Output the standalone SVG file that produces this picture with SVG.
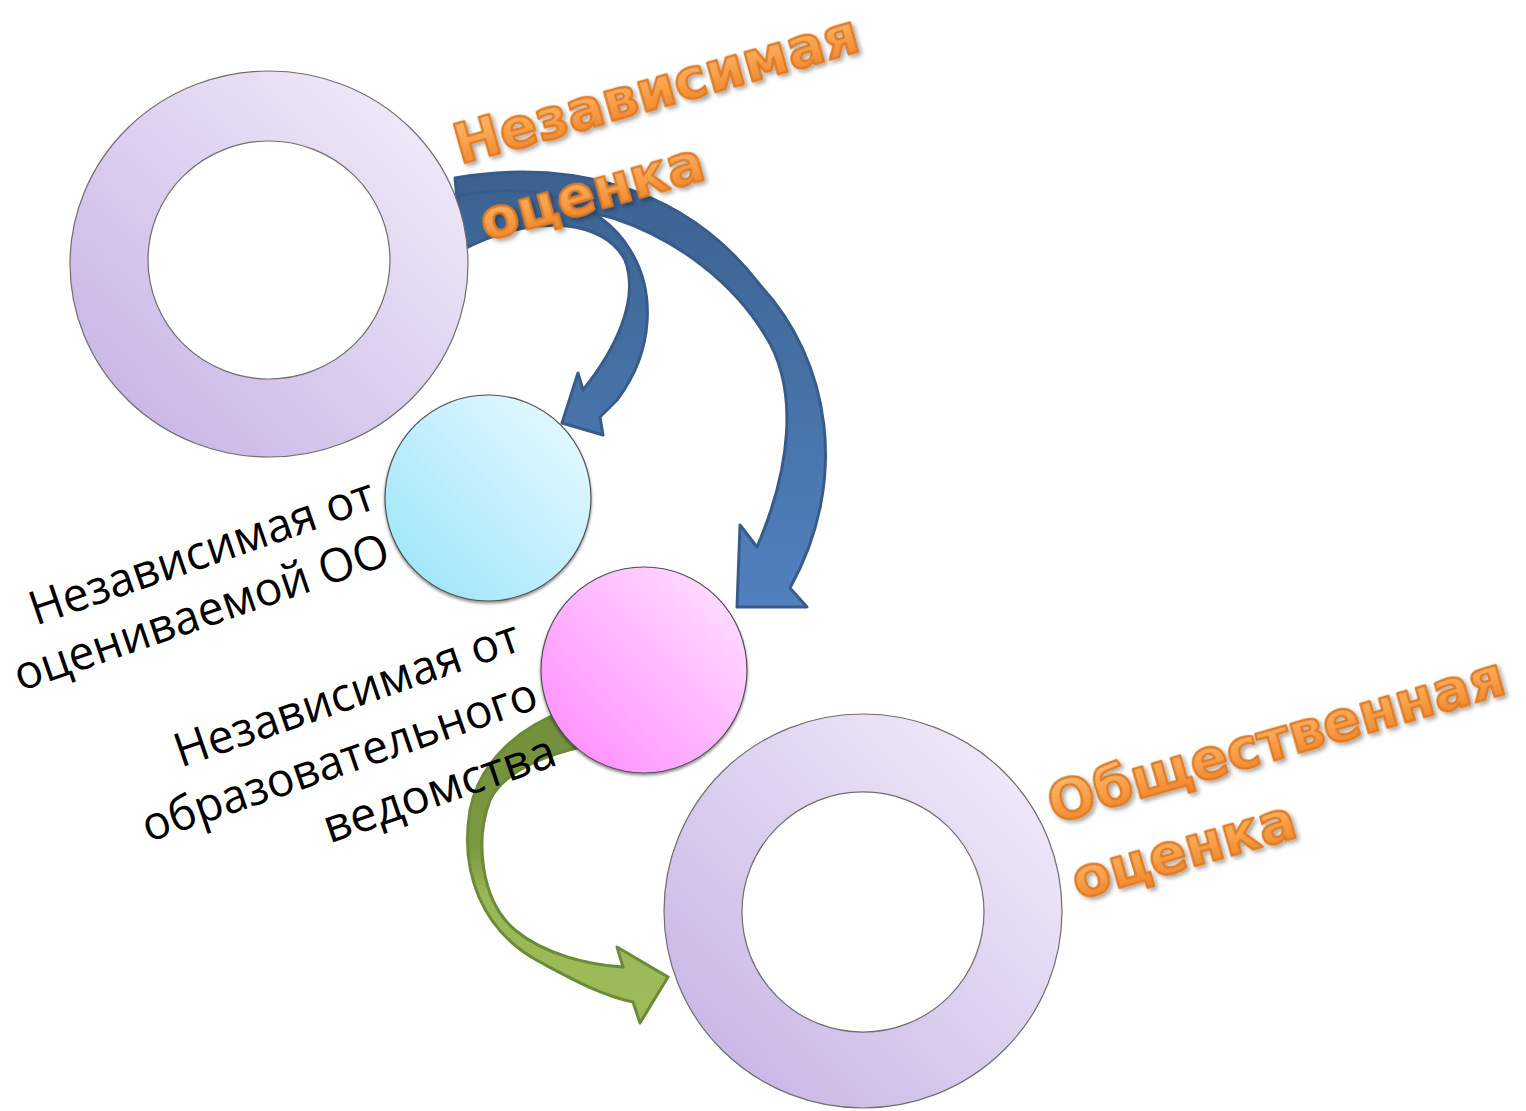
<svg xmlns="http://www.w3.org/2000/svg" width="1526" height="1111" viewBox="0 0 1526 1111">
<defs>
<linearGradient id="gRing" x1="1" y1="0" x2="0" y2="1">
<stop offset="0" stop-color="#f5f1fb"/><stop offset="1" stop-color="#c4aee3"/>
</linearGradient>
<linearGradient id="gCyan" x1="1" y1="0" x2="0" y2="1">
<stop offset="0" stop-color="#ecfbff"/><stop offset="1" stop-color="#96e3fa"/>
</linearGradient>
<linearGradient id="gPink" x1="1" y1="0" x2="0" y2="1">
<stop offset="0" stop-color="#ffe6ff"/><stop offset="1" stop-color="#ff86ff"/>
</linearGradient>
<linearGradient id="gBlue" gradientUnits="userSpaceOnUse" x1="0" y1="170" x2="0" y2="600">
<stop offset="0" stop-color="#3a6190"/><stop offset="0.35" stop-color="#436d9f"/><stop offset="1" stop-color="#5080bd"/>
</linearGradient>
<linearGradient id="gGreen" gradientUnits="userSpaceOnUse" x1="0" y1="720" x2="0" y2="1010">
<stop offset="0" stop-color="#738f3d"/><stop offset="0.45" stop-color="#7c9a40"/><stop offset="0.6" stop-color="#98b855"/><stop offset="1" stop-color="#9cbc5a"/>
</linearGradient>
<linearGradient id="gOrange" x1="0" y1="0" x2="0" y2="1">
<stop offset="0" stop-color="#ffc27a"/><stop offset="0.5" stop-color="#f9a24c"/><stop offset="1" stop-color="#ec7d22"/>
</linearGradient>
<filter id="shTxt" filterUnits="userSpaceOnUse" x="-100" y="-150" width="700" height="350">
<feDropShadow dx="2" dy="3" stdDeviation="2" flood-color="#000" flood-opacity="0.35"/>
</filter>
<filter id="shCirc" x="-10%" y="-10%" width="120%" height="125%">
<feDropShadow dx="0" dy="2" stdDeviation="1.5" flood-color="#000" flood-opacity="0.45"/>
</filter>
<style>
.ring{fill:url(#gRing);fill-rule:evenodd;stroke:#6e6e6e;stroke-width:1.2}
.blue{fill:url(#gBlue);stroke:#375c8a;stroke-width:3;stroke-linejoin:round}
.green{fill:url(#gGreen);stroke:#6c8a38;stroke-width:3;stroke-linejoin:round}
.orange{font-family:"DejaVu Sans",sans-serif;font-weight:bold;font-size:55.5px;fill:url(#gOrange);stroke:#e07b25;stroke-width:2.4;stroke-linejoin:round}
.lbl{font-family:"Open Sans","Noto Sans",sans-serif;font-size:47px;fill:#000;text-anchor:end}
</style>
</defs>
<g id="connectors">
<path id="arrow-long" class="blue" d="M455,178 C560,160 680,180 760,285 C830,360 850,480 790,588 L807,607 L737,607 L740,525 L757,547 C790,470 800,390 765,335 C735,285 680,240 613,218 C560,203 505,220 462,250 Z"/>
<path id="arrow-short" class="blue" d="M458,196 C530,180 600,200 630,250 C655,290 655,350 617,400 L600,417 L603,435 L562,423 L578,373 L583,390 C615,350 640,300 625,260 C605,222 540,210 462,250 Z"/>
</g>
<g id="ring-independent">
<path class="ring" d="M70,264 a199,193 0 1,0 398,0 a199,193 0 1,0 -398,0 Z M148,260 a121,119 0 1,1 242,0 a121,119 0 1,1 -242,0 Z"/>
</g>
<g id="ring-public">
<path class="ring" d="M664,911 a199,197 0 1,0 398,0 a199,197 0 1,0 -398,0 Z M742,912 a121,120 0 1,1 242,0 a121,120 0 1,1 -242,0 Z"/>
</g>
<g id="connector-green">
<path id="arrow-green" class="green" d="M562,712 C520,728 480,760 470,810 C460,870 480,930 540,962 C570,978 600,995 633,1002 L640,1023 L668,977 L617,947 L623,967 C590,965 545,955 515,930 C480,900 475,840 490,800 C505,770 545,755 585,746 Z"/>
</g>
<g id="circle-oo">
<circle cx="488" cy="498" r="103" fill="url(#gCyan)" stroke="#505050" stroke-width="1.2" filter="url(#shCirc)"/>
</g>
<g id="circle-dept">
<circle cx="644" cy="670" r="103" fill="url(#gPink)" stroke="#505050" stroke-width="1.2" filter="url(#shCirc)"/>
</g>
<g id="title-independent" transform="translate(460,164) rotate(-15.8)" filter="url(#shTxt)">
<text class="orange" x="0" y="0">Независимая</text>
<text class="orange" x="4" y="81">оценка</text>
</g>
<g id="title-public" transform="translate(1054,823) rotate(-16)" filter="url(#shTxt)">
<text class="orange" x="0" y="0">Общественная</text>
<text class="orange" x="2" y="80">оценка</text>
</g>
<g id="label-oo" transform="translate(378,508) rotate(-19)">
<text class="lbl" x="0" y="0" textLength="362" lengthAdjust="spacingAndGlyphs">Независимая от</text>
<text class="lbl" x="-4" y="57" textLength="394" lengthAdjust="spacingAndGlyphs">оцениваемой ОО</text>
</g>
<g id="label-dept" transform="translate(523,650) rotate(-19)">
<text class="lbl" x="0" y="0" textLength="362" lengthAdjust="spacingAndGlyphs">Независимая от</text>
<text class="lbl" x="-2" y="60" textLength="415" lengthAdjust="spacingAndGlyphs">образовательного</text>
<text class="lbl" x="-3" y="120" textLength="243" lengthAdjust="spacingAndGlyphs">ведомства</text>
</g>
</svg>
